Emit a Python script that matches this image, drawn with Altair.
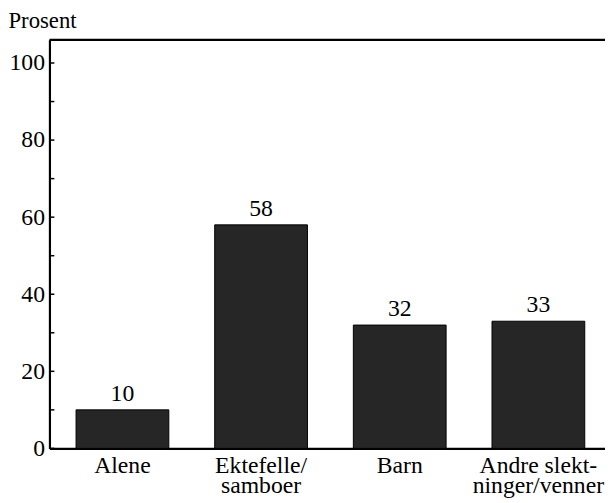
import altair as alt
import pandas as pd

categories = ["Alene", "Ektefelle/\nsamboer", "Barn", "Andre slekt-\nninger/venner"]
values = [10, 58, 32, 33]
major_ticks = [0, 20, 40, 60, 80, 100]
minor_ticks = [10, 30, 50, 70, 90]

df = pd.DataFrame({"kat": categories, "verdi": values})
ticks_df = pd.DataFrame({"v": major_ticks + minor_ticks})

FONT = "'Liberation Serif', 'Times New Roman', 'DejaVu Serif', serif"
W, H = 563, 414

xscale = alt.Scale(domain=categories, paddingInner=0.331, paddingOuter=0.169, align=0.568)
yscale = alt.Scale(domain=[0, 106], nice=False, zero=True)

base = alt.Chart(df)

bars = base.mark_bar(color="#262626", stroke="#000000", strokeWidth=1).encode(
    x=alt.X("kat:N", scale=xscale, sort=categories,
            axis=alt.Axis(title=None, labelAngle=0, ticks=False,
                          labelExpr="split(datum.label, '\\n')",
                          labelPadding=5, labelLineHeight=21, labelBaseline="top",
                          domainColor="#000", domainWidth=2.2)),
    y=alt.Y("verdi:Q", scale=yscale,
            axis=alt.Axis(values=major_ticks, ticks=False, grid=False,
                          labelPadding=5, domainColor="#000", domainWidth=2.2,
                          title="Prosent", titleAngle=0, titleAlign="left",
                          titleBaseline="alphabetic", titleX=-42, titleY=-13)),
)

text = base.mark_text(font=FONT, fontSize=24, color="#000", baseline="alphabetic", dy=-9).encode(
    x=alt.X("kat:N", scale=xscale, sort=categories),
    y=alt.Y("verdi:Q", scale=yscale),
    text=alt.Text("verdi:Q"),
)

tick_marks = alt.Chart(ticks_df).mark_rule(color="#000", strokeWidth=1.5).encode(
    y=alt.Y("v:Q", scale=yscale),
    x=alt.value(0),
    x2=alt.value(5),
)

top_line = alt.Chart(pd.DataFrame({"t": [106]})).mark_rule(color="#000", strokeWidth=2.2).encode(
    y=alt.Y("t:Q", scale=yscale),
    x=alt.value(0),
    x2=alt.value(W),
)

chart = alt.layer(bars, text, tick_marks, top_line).properties(
    width=W, height=H,
    autosize=alt.AutoSizeParams(type="none"),
    padding={"left": 42, "top": 29, "right": 0, "bottom": 50},
).configure(
    background="#ffffff", font=FONT
).configure_view(stroke=None).configure_axis(
    labelFont=FONT, labelFontSize=24, labelColor="#000",
    titleFont=FONT, titleFontSize=23, titleFontWeight="normal", titleColor="#000",
)

chart.save("out.html", embed_options={"renderer": "svg", "actions": False})
